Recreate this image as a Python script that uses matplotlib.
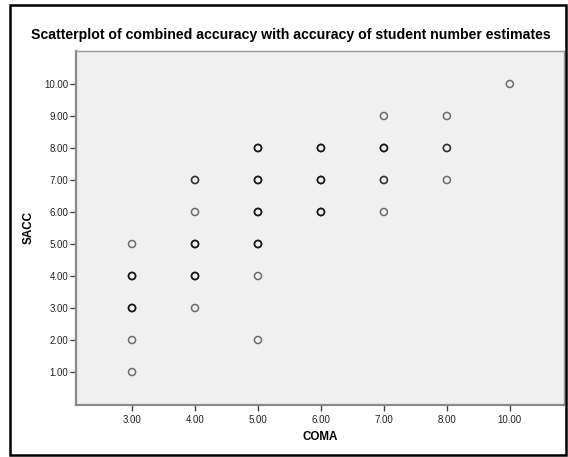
import matplotlib
matplotlib.use('Agg')
import matplotlib.pyplot as plt
from matplotlib.patches import Rectangle

plt.rcParams['font.family'] = ['Liberation Sans', 'DejaVu Sans']

# COMA categories shown on the x axis (evenly spaced, 9 is missing)
coma_levels = [3, 4, 5, 6, 7, 8, 10]
coma_labels = ['3.00', '4.00', '5.00', '6.00', '7.00', '8.00', '10.00']

# points; n = how many cases overlap on that spot
coma = [3, 3, 3, 3, 3,
        4, 4, 4, 4, 4,
        5, 5, 5, 5, 5, 5,
        6, 6, 6,
        7, 7, 7, 7,
        8, 8, 8,
        10]
sacc = [5, 4, 3, 2, 1,
        7, 6, 5, 4, 3,
        8, 7, 6, 5, 4, 2,
        8, 7, 6,
        9, 8, 7, 6,
        9, 8, 7,
        10]
n = [1, 3, 3, 1, 1,
     2, 1, 3, 3, 1,
     3, 3, 3, 3, 1, 1,
     3, 3, 3,
     1, 3, 2, 1,
     1, 2, 1,
     1]

y_ticks = [1, 2, 3, 4, 5, 6, 7, 8, 9, 10]

fig = plt.figure(figsize=(5.68, 4.57), dpi=100)
fig.patch.set_facecolor('white')

# outer frame
fig.add_artist(Rectangle((10 / 568, 2 / 457), 556 / 568, 450 / 457,
                         transform=fig.transFigure, fill=False,
                         edgecolor='black', linewidth=1.8))

ax = fig.add_axes([76 / 568, 1 - 405 / 457, 488 / 568, 354 / 457])
ax.set_facecolor('#F0F0F0')

pos = [coma_levels.index(c) for c in coma]
# overlapping cases drawn on top of each other -> darker rings
for k in range(max(n)):
    xs = [p for p, c in zip(pos, n) if c > k]
    ys = [s for s, c in zip(sacc, n) if c > k]
    ax.scatter(xs, ys, s=26, facecolors='none', edgecolors=(0, 0, 0, 0.55),
               linewidths=1.1, zorder=3)

ax.set_xlim(-0.89, 6.86)
ax.set_ylim(-0.03, 11.03)
ax.set_xticks(range(len(coma_levels)))
ax.set_xticklabels(coma_labels)
ax.set_yticks(y_ticks)
ax.set_yticklabels(['%.2f' % v for v in y_ticks])
ax.tick_params(axis='both', labelsize=7, length=4.5, width=1.0,
               color='#444444', labelcolor='#222222', pad=1)
ax.tick_params(axis='x', pad=3)

for side in ['left', 'bottom']:
    ax.spines[side].set_color('#8a8a8a')
    ax.spines[side].set_linewidth(1.6)
for side in ['top', 'right']:
    ax.spines[side].set_color('#9a9a9a')
    ax.spines[side].set_linewidth(1.0)

fig.text(291 / 568, 1 - 35.5 / 457,
         'Scatterplot of combined accuracy with accuracy of student number estimates',
         ha='center', va='center', fontsize=10.2, fontweight='bold')
fig.text(29 / 568, 1 - 228 / 457, 'SACC', rotation=90, ha='center', va='center',
         fontsize=8.4, fontweight='bold')
fig.text(320 / 568, 1 - 437 / 457, 'COMA', ha='center', va='center',
         fontsize=8.4, fontweight='bold')

fig.savefig('out.png', dpi=100)
